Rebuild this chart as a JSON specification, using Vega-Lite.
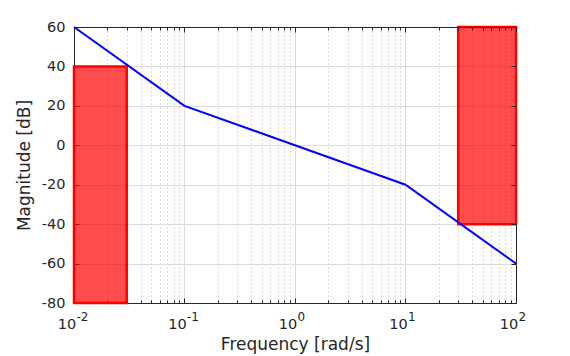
{
  "$schema": "https://vega.github.io/schema/vega-lite/v6.json",
  "autosize": "none",
  "width": 442,
  "height": 276,
  "padding": {"left": 74, "top": 27, "right": 54, "bottom": 53},
  "background": "white",
  "config": {
    "view": {"stroke": "#262626", "strokeWidth": 1},
    "font": "DejaVu Sans",
    "axis": {
      "labelFont": "DejaVu Sans",
      "titleFont": "DejaVu Sans",
      "labelFontSize": 14.5,
      "titleFontSize": 17,
      "titleFontWeight": "normal",
      "labelColor": "#262626",
      "titleColor": "#262626",
      "domainColor": "#262626",
      "tickColor": "#262626",
      "gridColor": "#dcdcdc",
      "gridOpacity": 1,
      "labelOverlap": false,
      "labelFlush": false
    }
  },
  "datasets": {
    "bode": [
      {"freq": 0.01, "mag": 60},
      {"freq": 0.1, "mag": 20},
      {"freq": 10, "mag": -20},
      {"freq": 100, "mag": -60}
    ],
    "bounds": [
      {"f1": 0.01, "f2": 0.03, "m1": -80, "m2": 40},
      {"f1": 30, "f2": 100, "m1": -40, "m2": 60}
    ]
  },
  "resolve": {"axis": {"x": "independent", "y": "independent"}},
  "layer": [
    {
      "data": {"name": "bounds"},
      "mark": {"type": "rect", "fill": "#ff0000", "fillOpacity": 0.7, "strokeWidth": 0},
      "encoding": {
        "x": {
          "field": "f1", "type": "quantitative",
          "scale": {"type": "log", "domain": [0.01, 100], "nice": false},
          "axis": {
            "orient": "bottom",
            "title": "Frequency [rad/s]",
            "titlePadding": 4,
            "values": [0.01,0.02,0.03,0.04,0.05,0.06,0.07,0.08,0.09,0.1,0.2,0.3,0.4,0.5,0.6,0.7,0.8,0.9,1,2,3,4,5,6,7,8,9,10,20,30,40,50,60,70,80,90,100],
            "labelExpr": "abs(log(datum.value)/LN10 - round(log(datum.value)/LN10)) < 1e-6 ? '10' : ''",
            "labelOffset": -7.5,
            "labelPadding": 19,
            "tickSize": {"condition": {"test": "abs(log(datum.value)/LN10 - round(log(datum.value)/LN10)) < 1e-6", "value": -5}, "value": -3},
            "gridDash": {"condition": {"test": "abs(log(datum.value)/LN10 - round(log(datum.value)/LN10)) < 1e-6", "value": []}, "value": [1, 3]},
            "gridColor": {"condition": [
              {"test": "datum.value >= 99.999", "value": "#262626"},
              {"test": "abs(log(datum.value)/LN10 - round(log(datum.value)/LN10)) < 1e-6", "value": "#dcdcdc"}
            ], "value": "#b4b4b4"}
          }
        },
        "x2": {"field": "f2"},
        "y": {
          "field": "m1", "type": "quantitative",
          "scale": {"domain": [-80, 60], "nice": false},
          "axis": {
            "orient": "left",
            "title": "Magnitude [dB]",
            "titlePadding": 8,
            "values": [-80, -60, -40, -20, 0, 20, 40, 60],
            "labelExpr": "'' + datum.value",
            "tickSize": -5,
            "labelPadding": 14,
            "gridColor": {"condition": {"test": "datum.value >= 59.999", "value": "#262626"}, "value": "#dcdcdc"}
          }
        },
        "y2": {"field": "m2"}
      }
    },
    {
      "data": {"name": "bounds"},
      "mark": {"type": "rect", "fill": null, "fillOpacity": 0, "stroke": "#ff0000", "strokeWidth": 2.5},
      "encoding": {
        "x": {
          "field": "f1", "type": "quantitative",
          "axis": {
            "orient": "top",
            "title": null,
            "labels": false,
            "grid": false,
            "domain": true,
            "zindex": 1,
            "values": [0.01,0.02,0.03,0.04,0.05,0.06,0.07,0.08,0.09,0.1,0.2,0.3,0.4,0.5,0.6,0.7,0.8,0.9,1,2,3,4,5,6,7,8,9,10,20,30,40,50,60,70,80,90,100],
            "tickSize": {"condition": {"test": "abs(log(datum.value)/LN10 - round(log(datum.value)/LN10)) < 1e-6", "value": -5}, "value": -3}
          }
        },
        "x2": {"field": "f2"},
        "y": {
          "field": "m1", "type": "quantitative",
          "axis": {
            "orient": "right",
            "title": null,
            "labels": false,
            "grid": false,
            "domain": false,
            "zindex": 1,
            "values": [-80, -60, -40, -20, 0, 20, 40, 60],
            "tickSize": -5
          }
        },
        "y2": {"field": "m2"}
      }
    },
    {
      "data": {"name": "bode"},
      "mark": {"type": "line", "color": "#0000ff", "strokeWidth": 2},
      "encoding": {
        "x": {
          "field": "freq", "type": "quantitative",
          "axis": {
            "orient": "bottom",
            "title": null,
            "values": [0.01, 0.1, 1, 10, 100],
            "labelExpr": "['-2','-1','0','1','2'][round(log(datum.value)/LN10)+2]",
            "labelFontSize": 12,
            "labelAlign": "left",
            "labelOffset": 2,
            "labelPadding": 8,
            "ticks": false,
            "tickSize": 0,
            "domain": false,
            "grid": false
          }
        },
        "y": {
          "field": "mag", "type": "quantitative",
          "axis": null
        }
      }
    }
  ]
}
